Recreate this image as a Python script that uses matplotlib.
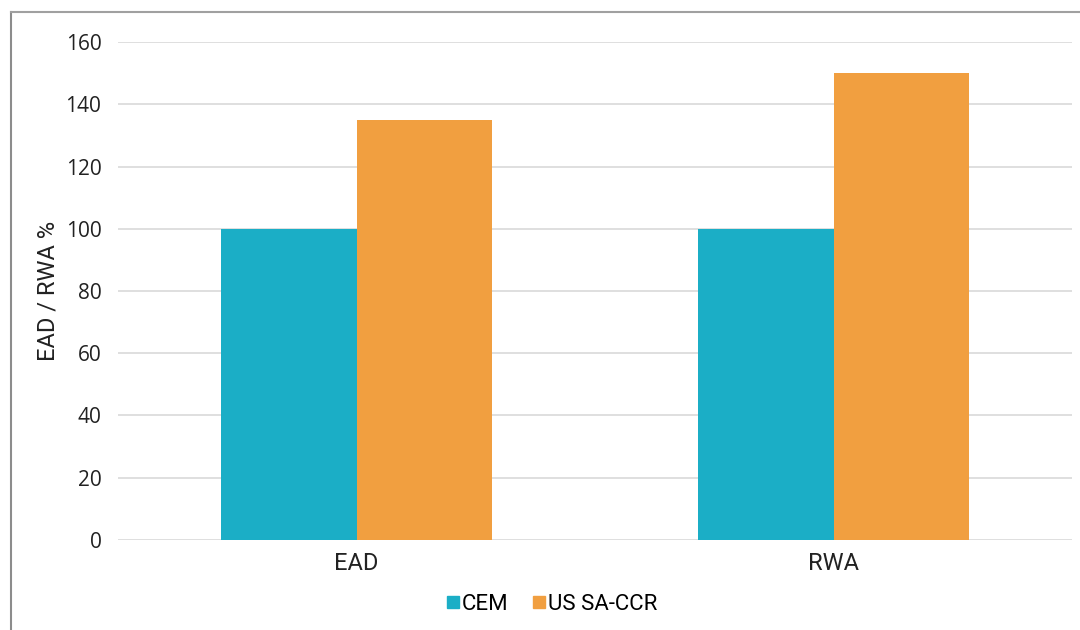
import matplotlib.pyplot as plt
import numpy as np
from matplotlib.lines import Line2D

categories = ["EAD", "RWA"]
cem = [100, 100]
us_saccr = [135, 150]
series_names = ["CEM", "US SA-CCR"]
yticks = [0, 20, 40, 60, 80, 100, 120, 140, 160]

teal = "#1BAEC6"
orange = "#F19F40"
narrow = ["Roboto", "DejaVu Sans"]

fig = plt.figure(figsize=(10.8, 6.3), dpi=100)
ax = fig.add_axes([0.1093, 0.1429, 0.8833, 0.7904])

x = np.arange(len(categories))
w = 0.285
ax.bar(x - w / 2, cem, w, color=teal, label=series_names[0])
ax.bar(x + w / 2, us_saccr, w, color=orange, label=series_names[1])

ax.set_xlim(-0.5, 1.5)
ax.set_ylim(0, 160)
ax.set_yticks(yticks)
ax.set_yticklabels([str(t) for t in yticks], fontsize=15, color="#222222", family="Open Sans")
ax.set_xticks(x)
ax.set_xticklabels(categories, fontsize=17, color="#222222", family=narrow)
ax.tick_params(length=0, pad=12)
ax.tick_params(axis="x", pad=9)
ax.set_ylabel("EAD / RWA %", fontsize=17, family=narrow, color="#222222", labelpad=4)

ax.grid(axis="y", color="#d9d9d9", linewidth=1.2)
ax.set_axisbelow(True)
for s in ax.spines.values():
    s.set_visible(False)

handles = [Line2D([], [], marker="s", linestyle="none", markersize=8, color=c)
           for c in (teal, orange)]
fig.legend(handles, series_names, loc="center", bbox_to_anchor=(0.51, 0.041),
           ncol=2, frameon=False, prop={"family": narrow, "size": 16},
           handletextpad=0.0, columnspacing=1.0, handlelength=0.8)

# outer frame lines
fig.add_artist(Line2D([11 / 1080, 11 / 1080], [0, 1 - 12 / 630], color="#8c8c8c", linewidth=1.5))
fig.add_artist(Line2D([11 / 1080, 1], [1 - 12 / 630, 1 - 12 / 630], color="#a0a0a0", linewidth=1.5))

fig.savefig("out.png", dpi=100)
